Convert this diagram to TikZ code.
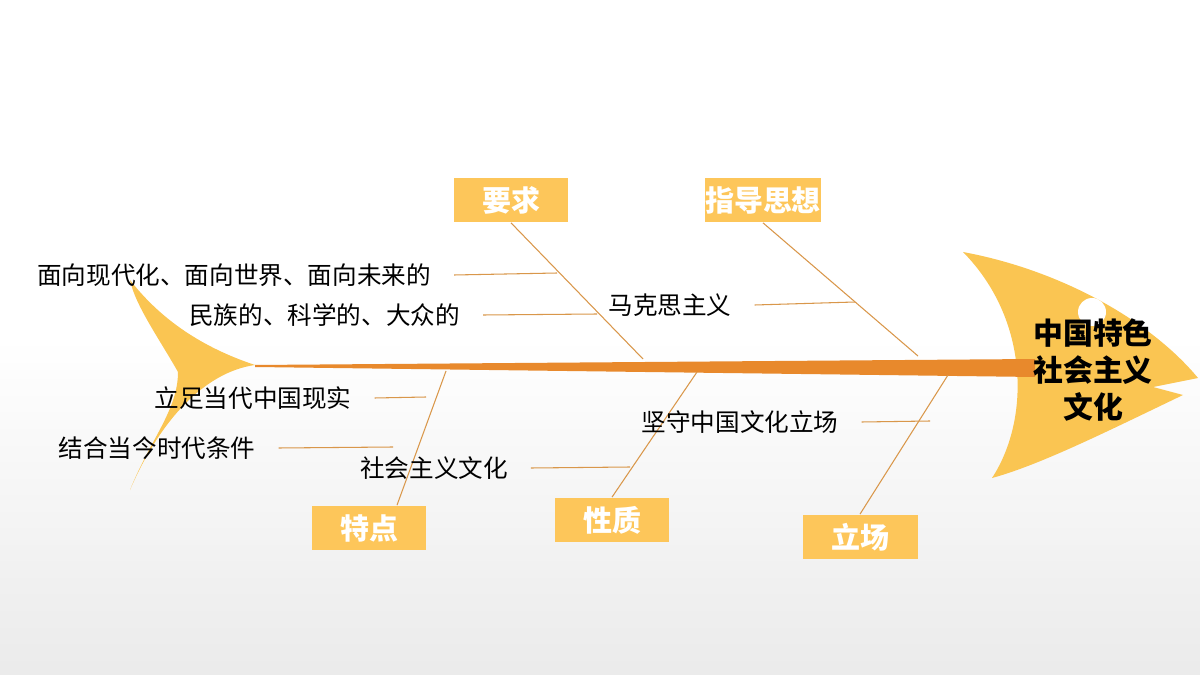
\documentclass[tikz,border=0pt]{standalone}
\usepackage{fontspec}
\setmainfont{Noto Sans CJK SC}
\usetikzlibrary{positioning}
\definecolor{fishyellow}{HTML}{FAC552}
\definecolor{boxyellow}{HTML}{FDC65A}
\definecolor{spineorange}{HTML}{E8892C}
\definecolor{boneorange}{HTML}{D9974A}
\begin{document}
\begin{tikzpicture}[x=0.02cm,y=-0.02cm,%
    tag/.style={fill=boxyellow,text=white,font=\fontsize{16.5}{20}\selectfont\bfseries,minimum width=2.3cm,minimum height=0.9cm,inner sep=0pt},
    item/.style={font=\fontsize{14}{17}\selectfont,inner sep=1pt},
    bone/.style={boneorange,line width=0.6pt}
  ]
		\useasboundingbox (0,0) rectangle (1200,675);
		\shade[top color=white,bottom color=black!8,middle color=white] (0,0) rectangle (1200,675);

		% tail and head
		\fill[fishyellow] (130,280) .. controls (165,325) and (210,350) .. (255,365)
			.. controls (205,372) and (160,420) .. (130,490)
			.. controls (150,440) and (178,410) .. (178,372)
			.. controls (160,340) and (135,305) .. (130,280) -- cycle;
		\fill[fishyellow] (963,252) .. controls (1060,270) and (1150,320) .. (1198,378)
			-- (1153,387) -- (1183,395)
			.. controls (1110,430) and (1040,465) .. (992,478)
			.. controls (1030,420) and (1030,320) .. (963,252) -- cycle;
		\fill[white] (1092,312) circle (14);

		% spine
		\fill[spineorange] (255,365) -- (1035,359) -- (1035,377) -- (255,367) -- cycle;

		\node[font=\fontsize{17}{21}\selectfont\bfseries,align=center] (head) at (1093,370) {中国特色\\社会主义\\文化};

		% categories
		\node[tag] (req) at (511,200) {要求};
		\node[tag] (guide) at (763,200) {指导思想};
		\node[tag] (feat) at (369,528) {特点};
		\node[tag] (nat) at (612,520) {性质};
		\node[tag] (pos) at (860,537) {立场};

		\coordinate (s1) at (643,359);
		\coordinate (s2) at (918,356);
		\coordinate (s3) at (446,371);
		\coordinate (s4) at (697,372);
		\coordinate (s5) at (948,375);

		\draw[bone] (req.south) -- (s1);
		\draw[bone] (guide.south) -- (s2);
		\draw[bone] (feat.north) ++(28,0) coordinate (f1) (f1) -- (s3);
		\draw[bone] (nat.north) -- (s4);
		\draw[bone] (pos.north) -- (s5);

		% details
		\node[item,anchor=east] (r1) at (433,275) {面向现代化、面向世界、面向未来的};
		\node[item,anchor=east] (r2) at (462,315) {民族的、科学的、大众的};
		\node[item] (g1) at (670,305) {马克思主义};
		\node[item] (f2) at (253,398) {立足当代中国现实};
		\node[item] (f3) at (157,448) {结合当今时代条件};
		\node[item] (n1) at (434,468) {社会主义文化};
		\node[item] (p1) at (740,422) {坚守中国文化立场};

		\coordinate (r1e) at (557,273);
		\coordinate (r2e) at (597,314);
		\coordinate (g1e) at (855,302);
		\coordinate (f2e) at (426,397);
		\coordinate (f3e) at (393,447);
		\coordinate (n1e) at (630,467);
		\coordinate (p1e) at (930,421);

		\draw[bone] ([xshift=12]r1.east) -- (r1e);
		\draw[bone] ([xshift=12]r2.east) -- (r2e);
		\draw[bone] ([xshift=12]g1.east) -- (g1e);
		\draw[bone] ([xshift=12]f2.east) -- (f2e);
		\draw[bone] ([xshift=12]f3.east) -- (f3e);
		\draw[bone] ([xshift=12]n1.east) -- (n1e);
		\draw[bone] ([xshift=12]p1.east) -- (p1e);
	\end{tikzpicture}
\end{document}
